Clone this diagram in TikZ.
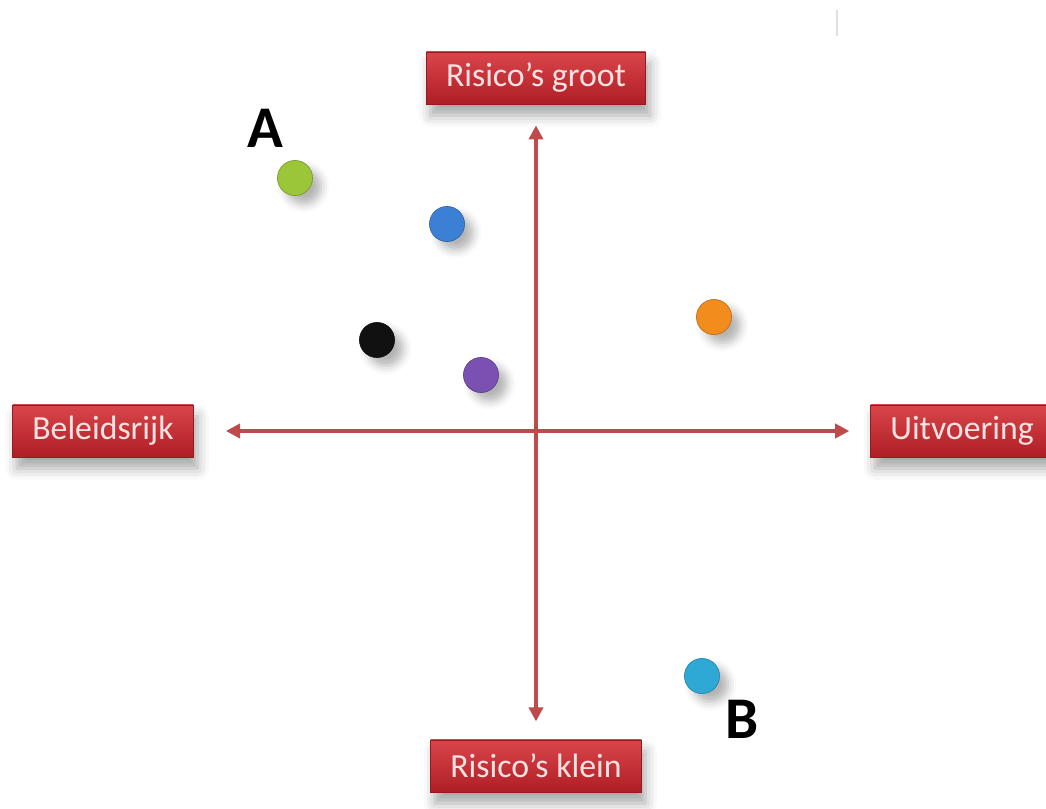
\documentclass[tikz,border=0pt]{standalone}
\usepackage{fontspec}
\setmainfont{Carlito}
\usetikzlibrary{arrows.meta,shadows.blur}

\definecolor{boxtop}{HTML}{D8464B}
\definecolor{boxbot}{HTML}{B01E25}
\definecolor{boxtext}{HTML}{FBE3E3}
\definecolor{axisred}{HTML}{BF4A4C}
\definecolor{dotgreen}{HTML}{9CC63A}
\definecolor{dotblue}{HTML}{3B80D4}
\definecolor{dotblack}{HTML}{111111}
\definecolor{dotpurple}{HTML}{7A50B2}
\definecolor{dotorange}{HTML}{F28C1C}
\definecolor{dotcyan}{HTML}{2EA9D6}

\begin{document}
\begin{tikzpicture}[x=0.025cm, y=-0.025cm, align=center,
    labelbox/.style={rectangle, top color=boxtop, bottom color=boxbot, draw=boxbot!85!black, line width=0.4pt,
      text=boxtext, font=\fontsize{24}{28}\selectfont, inner xsep=14pt, minimum height=37pt,
      blur shadow={shadow xshift=3pt, shadow yshift=-8pt, shadow blur radius=8pt, shadow opacity=35}},
    spot/.style={circle, inner sep=0pt, minimum size=25pt, draw=#1!75!black, fill=#1,
      blur shadow={shadow xshift=6pt, shadow yshift=-6pt, shadow blur radius=6pt, shadow opacity=30}},
    axis/.style={draw=axisred, line width=2.6pt, {Triangle[length=10pt,width=10pt]}-{Triangle[length=10pt,width=10pt]}},
    letter/.style={font=\fontsize{42}{46}\selectfont\bfseries}]
      \useasboundingbox (0,0) rectangle (1046,809);
      %
      \node[labelbox] (groot) at (536,78) {Risico’s groot};
      \node[labelbox] (klein) at (536,766) {Risico’s klein};
      \node[labelbox] (beleid) at (103,431) {Beleidsrijk};
      \node[labelbox] (uitvoer) at (962,431) {Uitvoering};
      %
      \draw[axis, shorten <=15pt, shorten >=13pt] (groot) -- (klein);
      \draw[axis, shorten <=23pt, shorten >=15pt] (beleid) -- (uitvoer);
      %
      \node[spot=dotgreen] (green) at (295,178) {};
      \node[spot=dotblue] (blue) at (447,224) {};
      \node[spot=dotblack] (black) at (377,340) {};
      \node[spot=dotpurple] (purple) at (481,375) {};
      \node[spot=dotorange] (orange) at (714,317) {};
      \node[spot=dotcyan] (cyan) at (702,676) {};
      %
      \node[letter] (A) at (265,128) {A};
      \node[letter] (B) at (742,719) {B};
      %
      \draw[black!12, line width=1pt] (837,10) -- (837,36);
    \end{tikzpicture}
\end{document}
